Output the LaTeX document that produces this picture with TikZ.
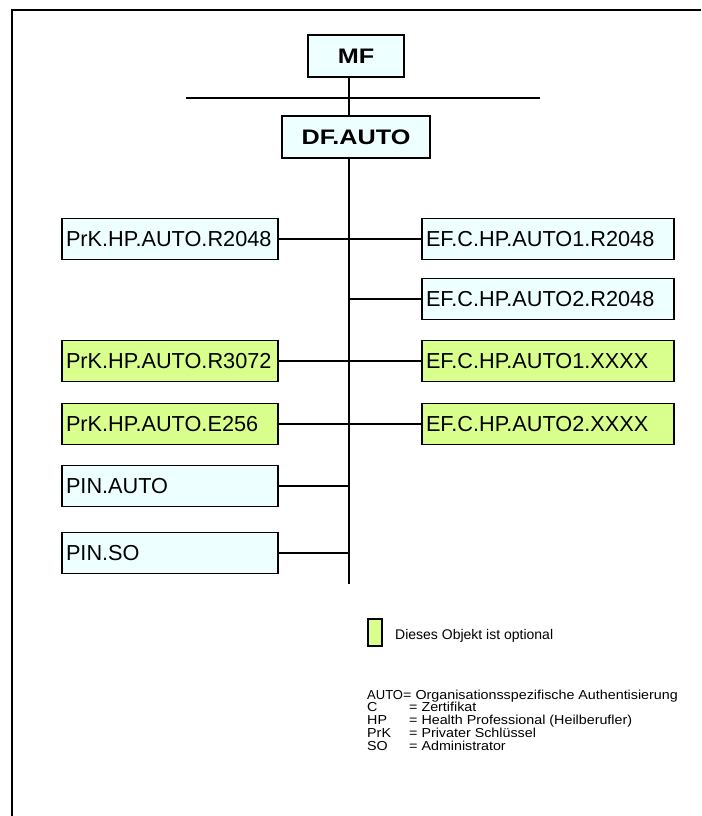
\documentclass[tikz,border=0pt]{standalone}
\usepackage{fontspec}
\setmainfont{Liberation Sans}
\definecolor{boxblue}{RGB}{238,255,255}
\definecolor{boxgreen}{RGB}{217,255,140}
\begin{document}
\begin{tikzpicture}[x=1pt,y=-1pt,
  frame/.style={line width=2.2pt},
  conn/.style={line width=1.6pt},
  objbox/.style={draw, line width=1.8pt, minimum height=41pt, inner ysep=0pt, inner xsep=4pt,
    align=left, font=\fontsize{21.7}{25}\selectfont},
  leftbox/.style={objbox, text width=208pt},
  rightbox/.style={objbox, text width=244pt},
  blue/.style={fill=boxblue},
  green/.style={fill=boxgreen},
  titlebox/.style={draw, line width=1.8pt, fill=boxblue, minimum height=42pt, inner sep=0pt,
    font=\fontsize{21}{25}\selectfont\bfseries},
  legtext/.style={inner sep=0pt, anchor=base west, font=\fontsize{13}{15}\selectfont}
]
\useasboundingbox (0,0) rectangle (701,816);
% frame
\draw[frame] (701,10) -- (12,10) -- (12,816);

% top boxes
\node[titlebox, minimum width=96pt] (mf) at (356,56) {\scalebox{1.2}[1]{MF}};
\node[titlebox, minimum width=148pt] (df) at (356,137) {\scalebox{1.2}[1]{DF.AUTO}};
\coordinate (mfb) at (349,77);
\coordinate (dft) at (349,116);
\coordinate (dfb) at (349,158);
\coordinate (vend) at (349,584);
\coordinate (hl) at (186,98);
\coordinate (hr) at (540,98);
\draw[conn] (hl) -- (hr);
\draw[conn] (mfb) -- (dft);
\draw[conn] (dfb) -- (vend);

% left boxes
\node[leftbox, blue]  (l1) at (170,239) {PrK.HP.AUTO.R2048};
\node[leftbox, green] (l3) at (170,361) {PrK.HP.AUTO.R3072};
\node[leftbox, green] (l4) at (170,424) {PrK.HP.AUTO.E256};
\node[leftbox, blue]  (l5) at (170,486) {PIN.AUTO};
\node[leftbox, blue]  (l6) at (170,553) {PIN.SO};
% right boxes
\node[rightbox, blue]  (r1) at (548,239) {EF.C.HP.AUTO1.R2048};
\node[rightbox, blue]  (r2) at (548,299) {EF.C.HP.AUTO2.R2048};
\node[rightbox, green] (r3) at (548,361) {EF.C.HP.AUTO1.XXXX};
\node[rightbox, green] (r4) at (548,424) {EF.C.HP.AUTO2.XXXX};

% connectors
\foreach \n in {l1,l3,l4,l5,l6} {
  \draw[conn] (\n.east) -- (\n.east -| dfb);
}
\foreach \n in {r1,r2,r3,r4} {
  \draw[conn] (\n.west) -- (\n.west -| dfb);
}

% legend
\node[draw, line width=1.6pt, fill=boxgreen, minimum width=14pt, minimum height=27pt, inner sep=0pt] (lg) at (375,632.5) {};
\node[inner sep=0pt, anchor=base west, font=\fontsize{14}{16}\selectfont] (lgt) at (395,639) {Dieses Objekt ist optional};

\node[legtext] (a1) at (367,699) {AUTO};
\node[legtext] (b1) at (403,699) {\scalebox{1.1}[1]{= Organisationsspezifische Authentisierung}};
\node[legtext] (a2) at (367,711.8) {\scalebox{1.1}[1]{C}};
\node[legtext] (b2) at (409,711.8) {\scalebox{1.1}[1]{= Zertifikat}};
\node[legtext] (a3) at (367,724.6) {\scalebox{1.1}[1]{HP}};
\node[legtext] (b3) at (409,724.6) {\scalebox{1.1}[1]{= Health Professional (Heilberufler)}};
\node[legtext] (a4) at (367,737.4) {\scalebox{1.1}[1]{PrK}};
\node[legtext] (b4) at (409,737.4) {\scalebox{1.1}[1]{= Privater Schlüssel}};
\node[legtext] (a5) at (367,750.2) {\scalebox{1.1}[1]{SO}};
\node[legtext] (b5) at (409,750.2) {\scalebox{1.1}[1]{= Administrator}};
\end{tikzpicture}
\end{document}
